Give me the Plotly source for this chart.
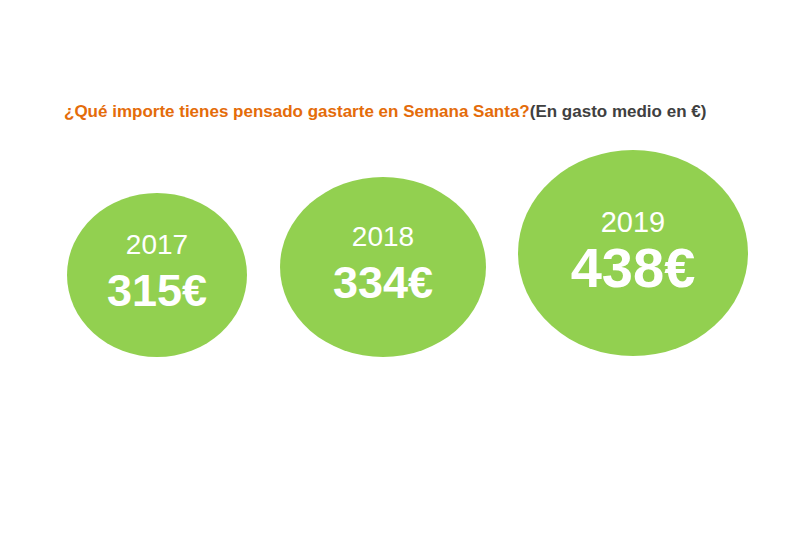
import plotly.graph_objects as go

years = ["2017", "2018", "2019"]
amounts = [315, 334, 438]

# ellipse geometry in pixel-like data units (x, y centre, width, height)
# page body has an 8px margin, so coordinates are shifted by -8
centres_x = [149, 375, 625]
centres_y = [267, 259, 245]
widths = [180, 206, 230]
heights = [164, 180, 206]

fig = go.Figure()

for cx, cy, w, h in zip(centres_x, centres_y, widths, heights):
    fig.add_shape(type="circle", xref="x", yref="y",
                  x0=cx - w / 2, x1=cx + w / 2, y0=cy - h / 2, y1=cy + h / 2,
                  fillcolor="#92D050", line=dict(width=0), layer="below")

fig.add_trace(go.Scatter(
    x=centres_x, y=[cy - 28 for cy in centres_y], mode="text", text=years,
    textfont=dict(family="Liberation Sans", size=[28, 28, 29], color="white"),
    hoverinfo="skip"))
fig.add_trace(go.Scatter(
    x=centres_x, y=[cy + 20 for cy in centres_y], mode="text",
    text=[f"<b>{a}€</b>" for a in amounts],
    textfont=dict(family="Liberation Sans", size=[45, 45, 56], color="white"),
    hoverinfo="skip"))

fig.add_annotation(
    x=54, y=103, xref="x", yref="y", xanchor="left", showarrow=False,
    text="<b><span style='color:#E46C0A'>¿Qué importe tienes pensado gastarte en Semana Santa?</span>"
         "<span style='color:#404040'>(En gasto medio en €)</span></b>",
    font=dict(family="Liberation Sans", size=17))

fig.update_layout(
    width=800, height=533, margin=dict(l=0, r=0, t=0, b=0),
    paper_bgcolor="white", plot_bgcolor="white", showlegend=False,
    xaxis=dict(range=[0, 800], visible=False),
    yaxis=dict(range=[533, 0], visible=False),
)

fig.write_html("out.html")
